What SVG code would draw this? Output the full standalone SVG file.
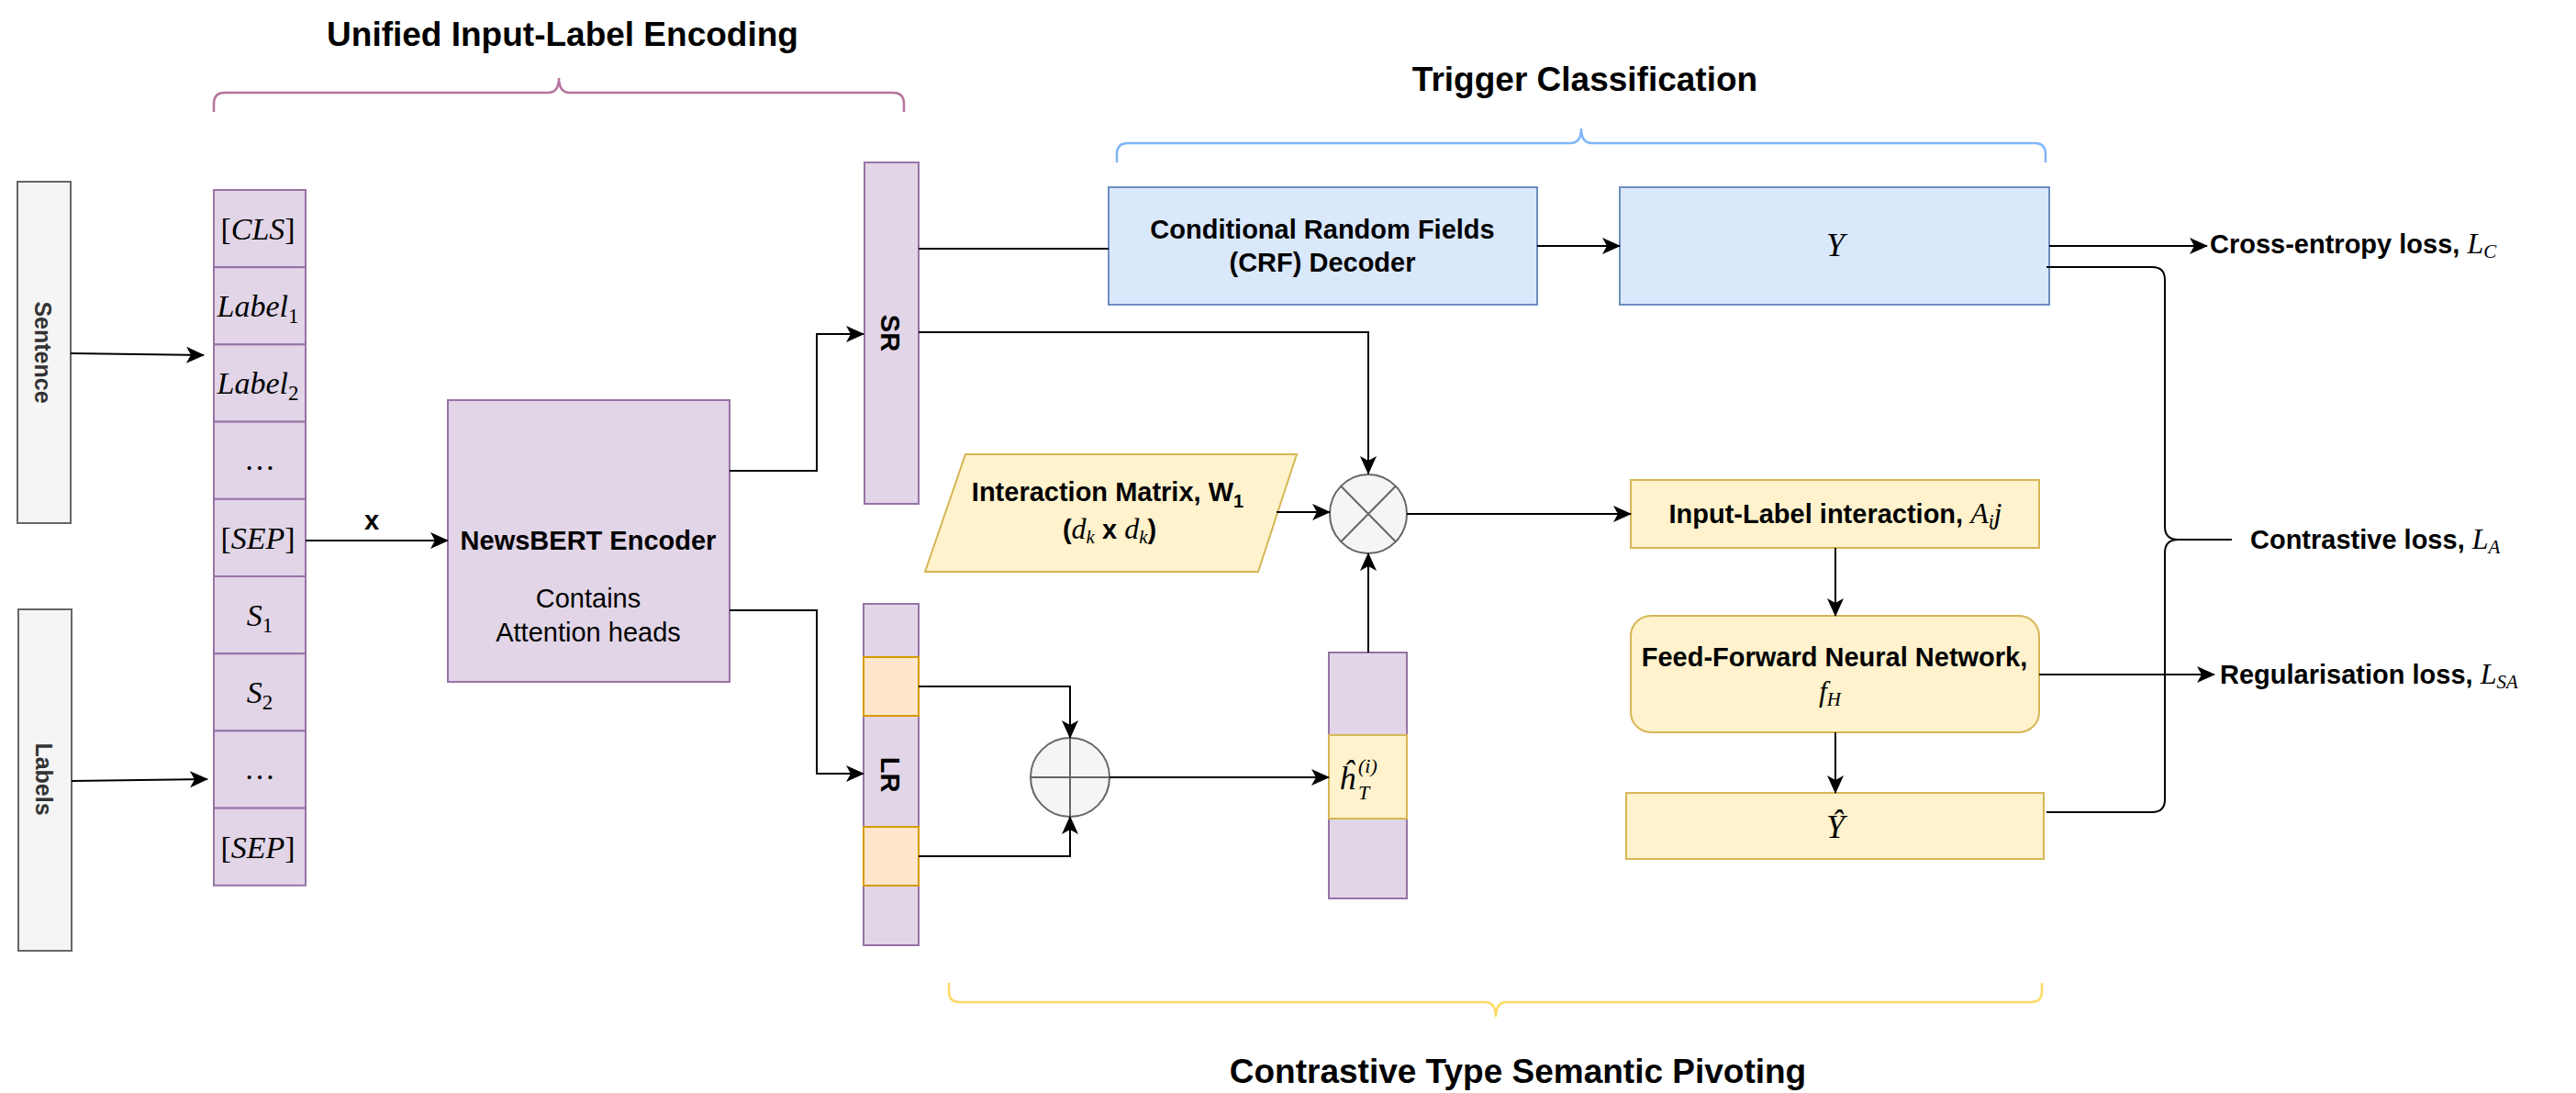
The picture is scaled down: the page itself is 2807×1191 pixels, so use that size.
<svg xmlns="http://www.w3.org/2000/svg" width="2807" height="1191" viewBox="0 0 2807 1191">
<style>
.sans{font-family:"Liberation Sans",Arial,sans-serif;}
.b{font-weight:bold;}
.math{font-family:"Liberation Serif","Times New Roman",serif;font-style:italic;}
.up{font-family:"Liberation Serif","Times New Roman",serif;font-style:normal;}
.title{font-family:"Liberation Sans",Arial,sans-serif;font-weight:bold;font-size:37px;fill:#000;}
.lbl{font-family:"Liberation Sans",Arial,sans-serif;font-weight:bold;font-size:29px;fill:#000;}
.side{font-family:"Liberation Sans",Arial,sans-serif;font-weight:bold;font-size:25px;fill:#333333;}
.gray{fill:#f5f5f5;stroke:#666666;stroke-width:2;}
.purple{fill:#e1d5e7;stroke:#9673a6;stroke-width:2;}
.orange{fill:#ffe6cc;stroke:#d79b00;stroke-width:2;}
.blue{fill:#dae8fc;stroke:#6c8ebf;stroke-width:2;}
.yellow{fill:#fff2cc;stroke:#d6b656;stroke-width:2;}
.conn{fill:none;stroke:#000;stroke-width:2;}
.arr{marker-end:url(#ah);}
.brace{fill:none;stroke-width:2.5;}
.tok{font-family:"Liberation Serif","Times New Roman",serif;font-size:34px;fill:#000;}
</style>
<defs>
<marker id="ah" markerUnits="userSpaceOnUse" markerWidth="20" markerHeight="18" viewBox="0 0 20 18" refX="19" refY="9" orient="auto">
<path d="M0,0 L20,9 L0,18 L5,9 Z" fill="#000"/>
</marker>
</defs>
<rect width="2807" height="1191" fill="#ffffff"/>

<!-- Section titles and braces -->
<g id="sec-encoding">
<text class="title" x="613" y="50" text-anchor="middle">Unified Input-Label Encoding</text>
<path class="brace" stroke="#b5739d" d="M233,122 V113 Q233,101 245,101 H597 Q609,101 609,85 Q609,101 621,101 H973 Q985,101 985,113 V122"/>
</g>
<g id="sec-trigger">
<text class="title" x="1727" y="99" text-anchor="middle">Trigger Classification</text>
<path class="brace" stroke="#7fb5f5" d="M1217,177 V168 Q1217,156 1229,156 H1711 Q1723,156 1723,140 Q1723,156 1735,156 H2217 Q2229,156 2229,168 V177"/>
</g>
<g id="sec-contrastive">
<text class="title" x="1654" y="1180" text-anchor="middle">Contrastive Type Semantic Pivoting</text>
<path class="brace" stroke="#ffd966" d="M1034,1071 V1080 Q1034,1092 1046,1092 H1618 Q1630,1092 1630,1108 Q1630,1092 1642,1092 H2213 Q2225,1092 2225,1080 V1071"/>
</g>

<!-- Nodes -->
<g id="n-sentence">
<rect class="gray" x="19" y="198" width="58" height="372"/>
<text class="side" transform="translate(38,384) rotate(90)" text-anchor="middle">Sentence</text>
</g>
<g id="n-labels">
<rect class="gray" x="20" y="664" width="58" height="372"/>
<text class="side" transform="translate(39,849) rotate(90)" text-anchor="middle">Labels</text>
</g>

<g id="n-tokens">
<rect class="purple" x="233" y="207" width="100" height="84.2"/>
<rect class="purple" x="233" y="291.2" width="100" height="84.2"/>
<rect class="purple" x="233" y="375.4" width="100" height="84.2"/>
<rect class="purple" x="233" y="459.6" width="100" height="84.2"/>
<rect class="purple" x="233" y="543.8" width="100" height="84.2"/>
<rect class="purple" x="233" y="628" width="100" height="84.2"/>
<rect class="purple" x="233" y="712.2" width="100" height="84.2"/>
<rect class="purple" x="233" y="796.4" width="100" height="84.2"/>
<rect class="purple" x="233" y="880.6" width="100" height="84.2"/>
<text class="tok" x="281" y="261" text-anchor="middle">[<tspan font-style="italic">CLS</tspan>]</text>
<text class="tok" x="281" y="345" text-anchor="middle"><tspan font-style="italic">Label</tspan><tspan font-size="23" dy="7">1</tspan></text>
<text class="tok" x="281" y="429" text-anchor="middle"><tspan font-style="italic">Label</tspan><tspan font-size="23" dy="7">2</tspan></text>
<text class="tok" x="283" y="512" text-anchor="middle">…</text>
<text class="tok" x="281" y="598" text-anchor="middle">[<tspan font-style="italic">SEP</tspan>]</text>
<text class="tok" x="283" y="682" text-anchor="middle"><tspan font-style="italic">S</tspan><tspan font-size="23" dy="7">1</tspan></text>
<text class="tok" x="283" y="766" text-anchor="middle"><tspan font-style="italic">S</tspan><tspan font-size="23" dy="7">2</tspan></text>
<text class="tok" x="283" y="849" text-anchor="middle">…</text>
<text class="tok" x="281" y="935" text-anchor="middle">[<tspan font-style="italic">SEP</tspan>]</text>
</g>

<g id="n-newsbert">
<rect class="purple" x="488" y="436" width="307" height="307"/>
<text class="lbl" x="641" y="599" text-anchor="middle">NewsBERT Encoder</text>
<text class="sans" font-size="29" x="641" y="662" text-anchor="middle">Contains</text>
<text class="sans" font-size="29" x="641" y="699" text-anchor="middle">Attention heads</text>
</g>

<g id="n-sr">
<rect class="purple" x="942" y="177" width="59" height="372"/>
<text class="lbl" font-size="30" transform="translate(960,363) rotate(90)" text-anchor="middle">SR</text>
</g>

<g id="n-lr">
<rect class="purple" x="941" y="658" width="60" height="372"/>
<rect class="orange" x="941" y="716" width="60" height="64"/>
<rect class="orange" x="941" y="901" width="60" height="64"/>
<text class="lbl" font-size="30" transform="translate(960,844) rotate(90)" text-anchor="middle">LR</text>
</g>

<g id="n-crf">
<rect class="blue" x="1208" y="204" width="467" height="128"/>
<text class="lbl" x="1441" y="260" text-anchor="middle">Conditional Random Fields</text>
<text class="lbl" x="1441" y="296" text-anchor="middle">(CRF) Decoder</text>
</g>

<g id="n-y">
<rect class="blue" x="1765" y="204" width="468" height="128"/>
<text class="math" font-size="36" x="2000" y="279" text-anchor="middle">Y</text>
</g>

<g id="n-matrix">
<polygon class="yellow" points="1052,495 1413,495 1371,623 1008,623"/>
<text class="lbl" x="1207" y="546" text-anchor="middle">Interaction Matrix, W<tspan font-size="20" dy="7">1</tspan></text>
<text class="lbl" x="1209" y="587" text-anchor="middle">(<tspan class="math" font-weight="normal" font-size="32">d</tspan><tspan class="math" font-weight="normal" font-size="21" dy="5">k</tspan><tspan dy="-5"> x </tspan><tspan class="math" font-weight="normal" font-size="32">d</tspan><tspan class="math" font-weight="normal" font-size="21" dy="5">k</tspan><tspan dy="-5">)</tspan></text>
</g>

<g id="n-mult">
<ellipse class="gray" cx="1491" cy="560" rx="42" ry="43"/>
<path d="M1461,529.5 L1521,590.5 M1521,529.5 L1461,590.5" stroke="#666666" stroke-width="2" fill="none"/>
</g>

<g id="n-add">
<ellipse class="gray" cx="1166" cy="847" rx="43" ry="43"/>
<path d="M1123,847 H1209 M1166,804 V890" stroke="#666666" stroke-width="2" fill="none"/>
</g>

<g id="n-ht">
<rect class="purple" x="1448" y="711" width="85" height="268"/>
<rect class="yellow" x="1448" y="801" width="85" height="91"/>
<text class="math" font-size="36" x="1459" y="860">ĥ</text>
<text class="math" font-size="22" x="1480" y="842">(i)</text>
<text class="math" font-size="22" x="1480" y="871">T</text>
</g>

<g id="n-interaction">
<rect class="yellow" x="1777" y="523" width="445" height="74"/>
<text class="lbl" x="2000" y="570" text-anchor="middle">Input-Label interaction, <tspan class="math" font-weight="normal" font-size="32">A</tspan><tspan class="math" font-weight="normal" font-size="21" dy="5">i</tspan><tspan class="math" font-weight="normal" font-size="32" dy="-5">j</tspan></text>
</g>

<g id="n-ffnn">
<rect class="yellow" x="1777" y="671" width="445" height="127" rx="22" ry="22"/>
<text class="lbl" x="1999" y="726" text-anchor="middle">Feed-Forward Neural Network,</text>
<text class="math" font-size="32" x="1994" y="764" text-anchor="middle">f<tspan font-size="21" dy="5">H</tspan></text>
</g>

<g id="n-yhat">
<rect class="yellow" x="1772" y="864" width="455" height="72"/>
<text class="math" font-size="36" x="2000" y="913" text-anchor="middle">Ŷ</text>
</g>

<g id="n-losses">
<text class="lbl" x="2408" y="276">Cross-entropy loss, <tspan class="math" font-weight="normal" font-size="32">L</tspan><tspan class="math" font-weight="normal" font-size="21" dy="5">C</tspan></text>
<text class="lbl" x="2452" y="598">Contrastive loss, <tspan class="math" font-weight="normal" font-size="32">L</tspan><tspan class="math" font-weight="normal" font-size="21" dy="5">A</tspan></text>
<text class="lbl" x="2419" y="745">Regularisation loss, <tspan class="math" font-weight="normal" font-size="32">L</tspan><tspan class="math" font-weight="normal" font-size="21" dy="5">SA</tspan></text>
</g>

<!-- Connectors -->
<g id="connectors">
<path class="conn arr" d="M77,385 L222,387"/>
<path class="conn arr" d="M78,851 L226,849"/>
<path class="conn arr" d="M333,589 H488"/>
<text class="lbl" font-size="30" x="405" y="577" text-anchor="middle">x</text>
<path class="conn arr" d="M795,513 H890 V364 H941"/>
<path class="conn arr" d="M795,665 H890 V843 H941"/>
<path class="conn" d="M1001,271 H1208"/>
<path class="conn arr" d="M1675,268 H1765"/>
<path class="conn arr" d="M2233,268 H2405"/>
<path class="conn arr" d="M1001,362 H1491 V516"/>
<path class="conn arr" d="M1391,558 H1449"/>
<path class="conn arr" d="M1533,560 H1777"/>
<path class="conn arr" d="M1001,748 H1166 V804"/>
<path class="conn arr" d="M1001,933 H1166 V890"/>
<path class="conn arr" d="M1209,847 H1448"/>
<path class="conn arr" d="M1491,711 V603"/>
<path class="conn arr" d="M2000,597 V671"/>
<path class="conn arr" d="M2000,798 V864"/>
<path class="conn arr" d="M2222,735 H2413"/>
<path class="conn" d="M2230,291 H2345 Q2359,291 2359,305 V574 Q2359,588 2374,588 Q2359,588 2359,602 V871 Q2359,885 2345,885 H2230"/>
<path class="conn" d="M2374,588 H2432"/>
</g>
</svg>
